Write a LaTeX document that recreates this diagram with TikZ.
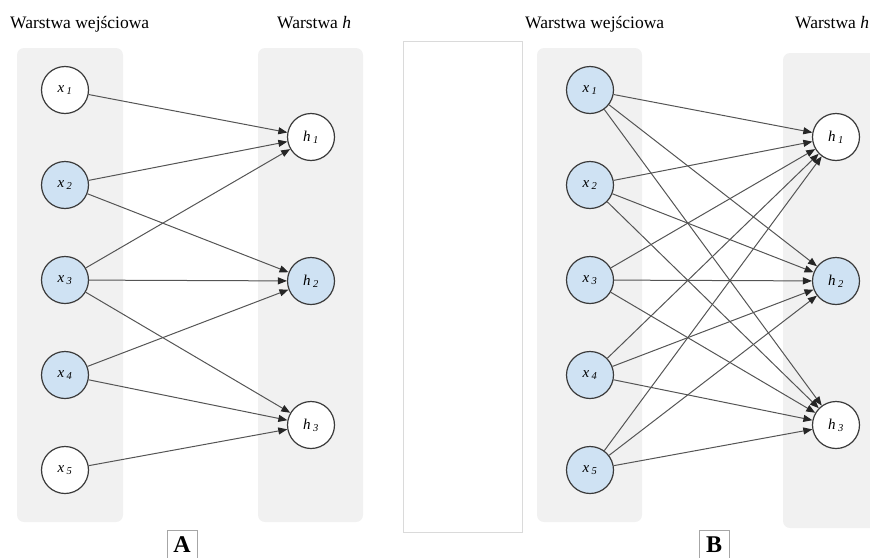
\documentclass[tikz,border=0pt]{standalone}
\usepackage{fontspec}
\setmainfont{Liberation Serif}
\usetikzlibrary{arrows.meta}
\definecolor{panel}{HTML}{F1F1F1}
\definecolor{nodeblue}{HTML}{CFE2F3}
\definecolor{edgegray}{HTML}{555555}
\definecolor{rim}{HTML}{3A3A3A}
\definecolor{frameline}{HTML}{DADADA}
\newcommand\unitlabel[2]{\textit{#1}\,\textsubscript{\textit{#2}}}

\begin{document}
\begin{tikzpicture}[x=1pt,y=-1pt,
  neuron/.style={circle, draw=rim, line width=1.2pt, minimum size=47pt, inner sep=0pt,
                 fill=white, font=\fontsize{15}{18}\selectfont},
  active/.style={neuron, fill=nodeblue},
  link/.style={draw=edgegray, line width=1pt,
               -{Triangle[length=9pt,width=7pt,color=black!85]}},
  layer/.style={fill=panel, rounded corners=7pt},
  title/.style={anchor=base west, font=\fontsize{17.5}{20}\selectfont, inner sep=0pt},
  tag/.style={draw=gray!70, line width=0.8pt, font=\bfseries\fontsize{24}{24}\selectfont,
              inner sep=0pt, minimum width=30pt, minimum height=28pt, anchor=north}]
\useasboundingbox (0,0) rectangle (870,557);

% layer panels
\fill[layer] (17,48) rectangle (123,522);
\fill[layer] (258,48) rectangle (363,522);
\fill[layer] (537,48) rectangle (642,522);
\fill[layer] (783,53) rectangle (890,528);
% empty frame between the two networks
\draw[frameline, line width=1pt, fill=white] (403,41) rectangle (522,532);

% titles
\node[title] (tA1) at (10,28) {Warstwa wejściowa};
\node[title] (tA2) at (277,28) {Warstwa \textit{h}};
\node[title] (tB1) at (525,28) {Warstwa wejściowa};
\node[title] (tB2) at (795,28) {Warstwa \textit{h}};

% network A
\node[neuron] (ax1) at (65,90)  {\unitlabel{x}{1}};
\node[active] (ax2) at (65,185) {\unitlabel{x}{2}};
\node[active] (ax3) at (65,280) {\unitlabel{x}{3}};
\node[active] (ax4) at (65,375) {\unitlabel{x}{4}};
\node[neuron] (ax5) at (65,470) {\unitlabel{x}{5}};
\node[neuron] (ah1) at (311,137) {\unitlabel{h}{1}};
\node[active] (ah2) at (311,281) {\unitlabel{h}{2}};
\node[neuron] (ah3) at (311,425) {\unitlabel{h}{3}};

\draw[link] (ax1) -- (ah1);
\draw[link] (ax2) -- (ah1);
\draw[link] (ax2) -- (ah2);
\draw[link] (ax3) -- (ah1);
\draw[link] (ax3) -- (ah2);
\draw[link] (ax3) -- (ah3);
\draw[link] (ax4) -- (ah2);
\draw[link] (ax4) -- (ah3);
\draw[link] (ax5) -- (ah3);

% network B (fully connected)
\node[active] (bx1) at (590,90)  {\unitlabel{x}{1}};
\node[active] (bx2) at (590,185) {\unitlabel{x}{2}};
\node[active] (bx3) at (590,280) {\unitlabel{x}{3}};
\node[active] (bx4) at (590,375) {\unitlabel{x}{4}};
\node[active] (bx5) at (590,470) {\unitlabel{x}{5}};
\node[neuron] (bh1) at (836,137) {\unitlabel{h}{1}};
\node[active] (bh2) at (836,281) {\unitlabel{h}{2}};
\node[neuron] (bh3) at (836,425) {\unitlabel{h}{3}};

\foreach \i in {1,...,5}
  \foreach \j in {1,2,3}
    \draw[link] (bx\i) -- (bh\j);

% panel tags
\node[tag] (tagA) at (182,530) {A};
\node[tag] (tagB) at (714,530) {B};
\end{tikzpicture}
\end{document}
